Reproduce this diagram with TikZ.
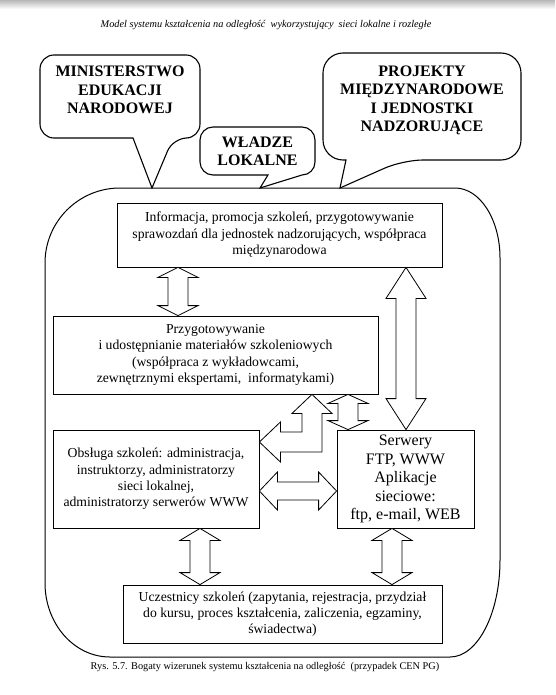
\documentclass[tikz,border=0pt]{standalone}
\usepackage{fontspec}
\setmainfont{Liberation Serif}
\usetikzlibrary{calc}
\tikzset{
  box/.style={draw, line width=0.8pt, align=center, inner sep=0pt, font=\fontsize{13.7}{16.3}\selectfont},
  blk/.style={draw, line width=0.8pt, fill=white, line join=miter},
  callout/.style={draw, line width=1.1pt},
  calltext/.style={align=center, inner sep=0pt, font=\fontsize{16}{18.3}\selectfont\bfseries},
  mainbox/.style={draw, line width=1pt},
  smalltext/.style={inner sep=0pt, font=\fontsize{10.3}{12}\selectfont}
}
\newcommand\vdarrow[4]{%
\draw[blk] let \p1=(#2), \p2=(#3) in
 (#1pt,\y1) -- (#1pt+20pt,\y1-#4pt) -- (#1pt+10pt,\y1-#4pt) -- (#1pt+10pt,\y2+#4pt)
 -- (#1pt+20pt,\y2+#4pt) -- (#1pt,\y2) -- (#1pt-20pt,\y2+#4pt) -- (#1pt-10pt,\y2+#4pt)
 -- (#1pt-10pt,\y1-#4pt) -- (#1pt-20pt,\y1-#4pt) -- cycle;}
\newcommand\hdarrow[4]{%
\draw[blk] let \p1=(#2), \p2=(#3) in
 (\x1,-#1pt) -- (\x1+#4pt,-#1pt+19pt) -- (\x1+#4pt,-#1pt+9pt) -- (\x2-#4pt,-#1pt+9pt)
 -- (\x2-#4pt,-#1pt+19pt) -- (\x2,-#1pt) -- (\x2-#4pt,-#1pt-19pt) -- (\x2-#4pt,-#1pt-9pt)
 -- (\x1+#4pt,-#1pt-9pt) -- (\x1+#4pt,-#1pt-19pt) -- cycle;}
\begin{document}
\begin{tikzpicture}[x=1pt,y=-1pt]
\useasboundingbox (0,0) rectangle (555,695);
\fill[white] (0,0) rectangle (555,695);
\shade[top color=black!28, bottom color=white] (0,0) rectangle (555,9);

% header and caption
\node[smalltext, font=\fontsize{10.3}{12}\selectfont\itshape] (hdr) at (266,25)
  {Model systemu kształcenia na odległość\ \ wykorzystujący\ \ sieci lokalne i rozległe};
\node[smalltext] (cap) at (265,667)
  {Rys. 5.7. Bogaty wizerunek systemu kształcenia na odległość\ \ (przypadek CEN PG)};

% main rounded container
\draw[mainbox] (45,263) arc[start angle=180,end angle=90,radius=75pt]
  -- (455,188) arc[start angle=90,end angle=0,x radius=45pt,y radius=70pt]
  -- (500,560) arc[start angle=0,end angle=-90,x radius=50pt,y radius=97pt]
  -- (110,657) arc[start angle=270,end angle=180,x radius=65pt,y radius=74pt]
  -- cycle;

% callouts
\draw[callout] (120,55) [rounded corners=14pt] -- (200,55) -- (200,138) -- (173,138)
  [sharp corners] -- (152,188) -- (133,138) [rounded corners=14pt] -- (40,138) -- (40,55) -- cycle;
\node[calltext] (men) at (120,90) {MINISTERSTWO\\EDUKACJI\\NARODOWEJ};

\draw[callout] (257,127) -- (302,127) arc[start angle=90,end angle=0,radius=13pt]
  -- (315,162) arc[start angle=0,end angle=-90,radius=13pt]
  -- (260,188) -- (268,175) -- (213,175) arc[start angle=270,end angle=180,radius=13pt]
  -- (200,140) arc[start angle=180,end angle=90,radius=13pt] -- cycle;
\node[calltext] (wl) at (257.5,151.5) {WŁADZE\\LOKALNE};

\draw[callout] (422,53) [rounded corners=20pt] -- (521,53) -- (521,160) -- (403,160)
  [sharp corners] -- (340,188) -- (346,160) [rounded corners=20pt] -- (323,160) -- (323,53) -- cycle;
\node[calltext] (proj) at (422,100.5) {PROJEKTY\\MIĘDZYNARODOWE\\I JEDNOSTKI\\NADZORUJĄCE};

% boxes
\node[box, minimum width=325pt, minimum height=64pt] (b1) at (279.5,235)
  {\raisebox{3pt}{\begin{tabular}{@{}c@{}}Informacja, promocja szkoleń, przygotowywanie\\sprawozdań dla jednostek nadzorujących, współpraca\\międzynarodowa\end{tabular}}};
\node[box, minimum width=325pt, minimum height=78pt] (b2) at (215.5,355)
  {Przygotowywanie\\i udostępnianie materiałów szkoleniowych\\(współpraca z wykładowcami,\\zewnętrznymi ekspertami,\ \ informatykami)};
\node[box, minimum width=206pt, minimum height=98pt] (b3) at (156,479)
  {\raisebox{-4pt}{\begin{tabular}{@{}c@{}}Obsługa szkoleń: administracja,\\instruktorzy, administratorzy\\sieci lokalnej,\\administratorzy serwerów WWW\end{tabular}}};
\node[box, minimum width=137pt, minimum height=98pt, font=\fontsize{16}{18.5}\selectfont] (b4) at (405.5,479)
  {Serwery\\FTP, WWW\\Aplikacje\\sieciowe:\\ftp, e-mail, WEB};
\node[box, minimum width=319pt, minimum height=58pt] (b5) at (282.5,614)
  {Uczestnicy szkoleń (zapytania, rejestracja, przydział\\do kursu, proces kształcenia, zaliczenia, egzaminy,\\świadectwa)};

% block arrows
\vdarrow{178}{b1.south}{b2.north}{10}
\vdarrow{406}{b1.south}{b4.north}{31}
\vdarrow{348}{b2.south}{b4.north}{9}
\vdarrow{200}{b3.south}{b5.north}{12}
\vdarrow{392}{b4.south}{b5.north}{12}
\hdarrow{491}{b3.east}{b4.west}{18}
\draw[blk] let \p1=(b2.south), \p2=(b3.east) in
  (312pt,\y1) -- (332pt,\y1-19pt) -- (322pt,\y1-19pt) -- (322pt,-452pt)
  -- (\x2+21pt,-452pt) -- (\x2+21pt,-462pt) -- (\x2,-442pt) -- (\x2+21pt,-422pt)
  -- (\x2+21pt,-432pt) -- (302pt,-432pt) -- (302pt,\y1-19pt) -- (292pt,\y1-19pt) -- cycle;
\end{tikzpicture}
\end{document}
